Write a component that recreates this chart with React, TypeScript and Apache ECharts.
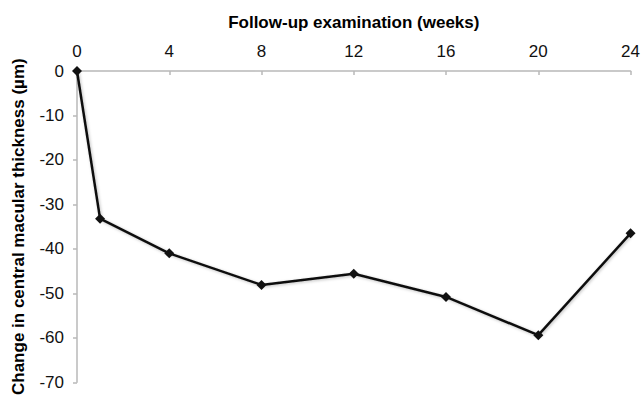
import React, { useEffect, useRef } from "react";
import * as echarts from "echarts";

const weeks = [0, 1, 4, 8, 12, 16, 20, 24];
const changeValues = [0, -33.2, -41.0, -48.1, -45.6, -50.8, -59.4, -36.5];
const xTitle = "Follow-up examination (weeks)";
const yTitle = "Change in central macular thickness (µm)";

const FONT = "'Liberation Sans', Arial, Helvetica, sans-serif";

export default function App() {
  const ref = useRef<HTMLDivElement>(null);
  useEffect(() => {
    if (!ref.current) return;
    const chart = echarts.init(ref.current, undefined, { renderer: "svg" });
    const data = weeks.map((w, i) => [w, changeValues[i]]);
    chart.setOption({
      animation: false,
      backgroundColor: "#ffffff",
      grid: { left: 77, right: 12, top: 71, bottom: 11, containLabel: false },
      xAxis: {
        type: "value",
        position: "top",
        min: 0,
        max: 24,
        interval: 4,
        name: xTitle,
        nameLocation: "middle",
        nameGap: 40,
        nameTextStyle: { fontFamily: FONT, fontSize: 17, fontWeight: "bold", color: "#000" },
        axisLine: { show: true, onZero: false, lineStyle: { color: "#b8b8b8", width: 1.5 } },
        axisTick: { show: true, inside: true, length: 4, lineStyle: { color: "#b8b8b8", width: 1.5 } },
        axisLabel: { fontFamily: FONT, fontSize: 17, color: "#111", margin: 11 },
        splitLine: { show: false },
      },
      yAxis: {
        type: "value",
        min: -70,
        max: 0,
        interval: 10,
        name: yTitle,
        nameLocation: "middle",
        nameGap: 50,
        nameRotate: 90,
        nameTextStyle: { fontFamily: FONT, fontSize: 17, fontWeight: "bold", color: "#000" },
        axisLine: { show: true, lineStyle: { color: "#b8b8b8", width: 1.5 } },
        axisTick: { show: true, length: 4, lineStyle: { color: "#b8b8b8", width: 1.5 } },
        axisLabel: { fontFamily: FONT, fontSize: 17, color: "#111", margin: 13 },
        splitLine: { show: false },
      },
      series: [
        {
          type: "line",
          data,
          symbol: "diamond",
          symbolSize: 10,
          showSymbol: true,
          lineStyle: {
            color: "#111",
            width: 2.5,
            shadowColor: "rgba(0,0,0,0.25)",
            shadowBlur: 3,
            shadowOffsetX: 1,
            shadowOffsetY: 1,
          },
          itemStyle: { color: "#111", borderWidth: 0 },
          z: 3,
        },
      ],
    });
    return () => chart.dispose();
  }, []);
  return (
    <div
      ref={ref}
      style={{ position: "fixed", left: 0, top: 0, width: 643, height: 398, background: "#fff" }}
    />
  );
}
